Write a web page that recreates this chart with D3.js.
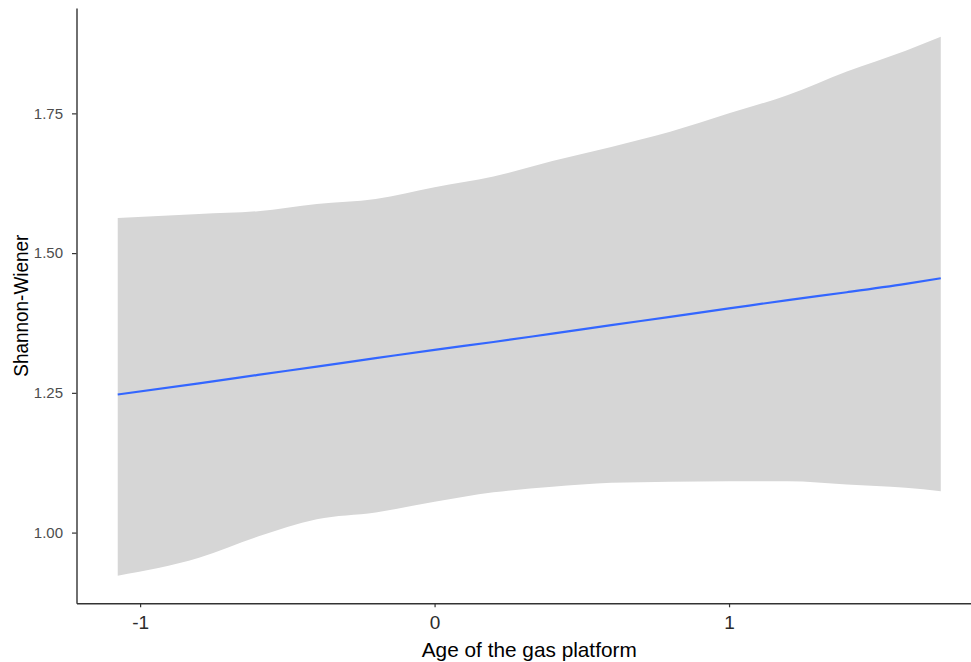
<!DOCTYPE html>
<html>
<head>
<meta charset="utf-8">
<script src="https://cdn.jsdelivr.net/npm/d3@7"></script>
<style>
  html, body { margin: 0; padding: 0; background: #ffffff; }
  svg { display: block; font-family: "Liberation Sans", Arial, sans-serif; }
</style>
</head>
<body>
<svg id="chart" width="971" height="662"></svg>
<script>
// Smoothed fit of Shannon-Wiener diversity against platform age (scaled)
const age    = [-1.076, -0.8, -0.6, -0.4, -0.2, 0, 0.2, 0.4, 0.6, 0.8, 1.0, 1.2, 1.4, 1.6, 1.719];
const fit    = [1.247, 1.267, 1.282, 1.297, 1.312, 1.327, 1.341, 1.356, 1.371, 1.386, 1.401, 1.416, 1.430, 1.445, 1.455];
const upper  = [1.563, 1.570, 1.575, 1.588, 1.597, 1.618, 1.637, 1.665, 1.690, 1.717, 1.750, 1.783, 1.825, 1.862, 1.887];
const lower  = [0.923, 0.955, 0.993, 1.024, 1.036, 1.055, 1.072, 1.082, 1.089, 1.091, 1.092, 1.092, 1.086, 1.080, 1.074];

const xTicks = [-1, 0, 1];
const yTicks = [1.00, 1.25, 1.50, 1.75];
const xTitle = "Age of the gas platform";
const yTitle = "Shannon-Wiener";

const rows = age.map((a, i) => ({ x: a, y: fit[i], lo: lower[i], hi: upper[i] }));

const svg = d3.select("#chart");

// panel edges
const panelLeft = 76.5, panelRight = 982, panelTop = 8, panelBottom = 603.3;

const x = d3.scaleLinear().domain([-1.216, 1.859]).range([panelLeft, panelRight]);
const y = d3.scaleLinear().domain([0.8735, 1.9385]).range([panelBottom, panelTop]);

// confidence ribbon
svg.append("path")
  .datum(rows)
  .attr("fill", "#d6d6d6")
  .attr("d", d3.area().curve(d3.curveMonotoneX)
    .x(d => x(d.x)).y0(d => y(d.lo)).y1(d => y(d.hi)));

// fitted line
svg.append("path")
  .datum(rows)
  .attr("fill", "none")
  .attr("stroke", "#3366ff")
  .attr("stroke-width", 2.2)
  .attr("d", d3.line().curve(d3.curveMonotoneX).x(d => x(d.x)).y(d => y(d.y)));

// x axis
const gx = svg.append("g")
  .attr("transform", `translate(0,${panelBottom})`)
  .call(d3.axisBottom(x).tickValues(xTicks).tickFormat(d3.format("d"))
    .tickSize(4).tickSizeOuter(0).tickPadding(8));
gx.select(".domain").attr("stroke", "#333333").attr("stroke-width", 1.4);
gx.selectAll(".tick line").attr("stroke", "#333333").attr("stroke-width", 1.2);
gx.selectAll(".tick text").attr("fill", "#2b2b2b").attr("font-size", 19)
  .text(d => d < 0 ? "-" + Math.abs(d) : String(d));

// y axis
const gy = svg.append("g")
  .attr("transform", `translate(${panelLeft},0)`)
  .call(d3.axisLeft(y).tickValues(yTicks).tickFormat(d3.format(".2f"))
    .tickSize(4.5).tickSizeOuter(0).tickPadding(9));
gy.select(".domain").attr("stroke", "#333333").attr("stroke-width", 1.4);
gy.selectAll(".tick line").attr("stroke", "#333333").attr("stroke-width", 1.2);
gy.selectAll(".tick text").attr("fill", "#4d4d4d").attr("font-size", 15);

// axis titles
svg.append("text")
  .attr("x", (panelLeft + panelRight) / 2)
  .attr("y", 656.5)
  .attr("text-anchor", "middle")
  .attr("font-size", 21)
  .attr("fill", "#000")
  .attr("textLength", 215)
  .attr("lengthAdjust", "spacingAndGlyphs")
  .text(xTitle);

svg.append("text")
  .attr("transform", `translate(28,${(panelTop + panelBottom) / 2}) rotate(-90)`)
  .attr("text-anchor", "middle")
  .attr("font-size", 20)
  .attr("fill", "#000")
  .attr("textLength", 142)
  .attr("lengthAdjust", "spacingAndGlyphs")
  .text(yTitle);
</script>
</body>
</html>
